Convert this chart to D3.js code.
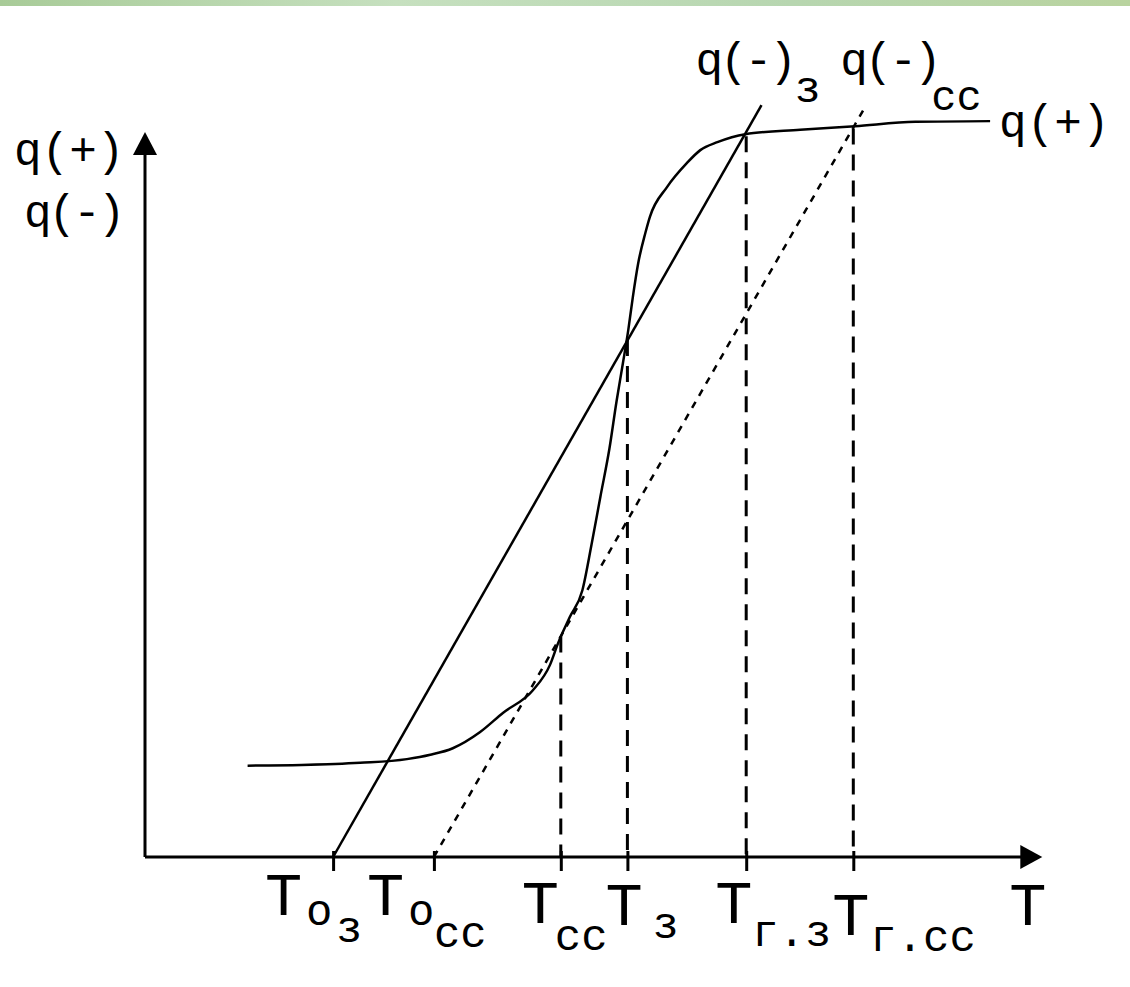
<!DOCTYPE html>
<html>
<head>
<meta charset="utf-8">
<script src="https://cdn.jsdelivr.net/npm/d3@7"></script>
<style>
  body { margin: 0; background: #fff; }
  svg { display: block; }
  text { font-family: "Courier New", "Liberation Mono", monospace; fill: #000; }
</style>
</head>
<body>
<div id="chart"></div>
<script>
// q(+) curve (T, q in arbitrary units 0..100)
const curveT = [11.4, 17.4, 23.9, 29.1, 31.7, 34.2, 37.2, 39.8, 43.1, 45.0, 45.9, 47.2, 48.6, 49.6, 50.6,
                51.6, 52.4, 53.1, 53.7, 54.2, 54.8, 55.6, 56.1, 58.0, 60.2, 61.7, 63.6, 66.7, 72.8, 78.9, 85.6, 93.9];
const curveQ = [12.6, 12.7, 13.0, 13.5, 14.1, 15.0, 17.2, 19.9, 23.0, 26.5, 29.5, 33.1, 36.8, 43.0, 49.7,
                56.3, 62.9, 68.1, 72.7, 77.2, 81.9, 86.1, 88.3, 92.4, 95.7, 97.5, 98.6, 99.7, 100.3, 100.8, 101.4, 101.5];

// q(-) lines (solid for з, dashed for сс)
const lineZT = [20.9, 68.5];
const lineZQ = [0, 103.7];
const lineCCT = [32.1, 79.8];
const lineCCQ = [0, 103.0];

// marked temperatures on the T axis
const tickT = [20.9, 32.1, 46.2, 53.6, 66.8, 78.7];
const tickSubs = [["о", "з"], ["о", "сс"], ["сс"], ["з"], ["г.з"], ["г.сс"]];
// top of the dashed drop line for each tick (null = none)
const dropQ = [null, null, 30.4, 71.3, 99.4, 100.5];

const axisMaxT = 99.7;
const axisMaxQ = 100;

const W = 1130, H = 987;

const svg = d3.select("#chart").append("svg")
    .attr("width", W)
    .attr("height", H);

// green strip on top
const grad = svg.append("defs").append("linearGradient").attr("id", "band");
[["0%", "#a8cb98"], ["35%", "#c6e0bf"], ["70%", "#b7d6b0"], ["100%", "#b9d39f"]].forEach(s =>
    grad.append("stop").attr("offset", s[0]).attr("stop-color", s[1]));
svg.append("rect").attr("x", 0).attr("y", 0).attr("width", W).attr("height", 6).attr("fill", "url(#band)");

const x = d3.scaleLinear().domain([0, 100]).range([145, 1045]);
const y = d3.scaleLinear().domain([0, 100]).range([857, 132]);

// axes
svg.append("line")
    .attr("x1", x(0)).attr("y1", y(0)).attr("x2", x(axisMaxT) - 10).attr("y2", y(0))
    .attr("stroke", "#000").attr("stroke-width", 3);
svg.append("line")
    .attr("x1", x(0)).attr("y1", y(0)).attr("x2", x(0)).attr("y2", y(axisMaxQ) + 10)
    .attr("stroke", "#000").attr("stroke-width", 3);
svg.append("path")
    .attr("d", `M${x(0)},${y(axisMaxQ)} L${x(0) - 12},${y(axisMaxQ) + 23} L${x(0) + 12},${y(axisMaxQ) + 23} Z`)
    .attr("fill", "#000");
svg.append("path")
    .attr("d", `M${x(axisMaxT)},${y(0)} L${x(axisMaxT) - 22},${y(0) - 12} L${x(axisMaxT) - 22},${y(0) + 12} Z`)
    .attr("fill", "#000");

// ticks
const xAxis = svg.append("g")
    .attr("transform", `translate(0,${y(0)})`)
    .call(d3.axisBottom(x).tickValues(tickT).tickSize(14).tickFormat(""));
xAxis.select(".domain").remove();
xAxis.selectAll(".tick line").attr("y1", -6).attr("stroke-width", 3);

// dashed drop lines
svg.selectAll(".drop")
    .data(tickT.map((t, i) => [t, dropQ[i]]).filter(d => d[1] !== null))
    .enter().append("line")
    .attr("class", "drop")
    .attr("x1", d => x(d[0])).attr("x2", d => x(d[0]))
    .attr("y1", d => y(d[1])).attr("y2", y(0))
    .attr("stroke", "#000").attr("stroke-width", 3)
    .attr("stroke-dasharray", "16,10");

const line = d3.line().x(d => x(d[0])).y(d => y(d[1]));

// q(-)з solid, q(-)сс dashed
svg.append("path")
    .attr("d", line(d3.zip(lineZT, lineZQ)))
    .attr("fill", "none").attr("stroke", "#000").attr("stroke-width", 2.5);
svg.append("path")
    .attr("d", line(d3.zip(lineCCT, lineCCQ)))
    .attr("fill", "none").attr("stroke", "#000").attr("stroke-width", 2.5)
    .attr("stroke-dasharray", "7,7");

// q(+) curve
svg.append("path")
    .attr("d", line.curve(d3.curveMonotoneX)(d3.zip(curveT, curveQ)))
    .attr("fill", "none").attr("stroke", "#000").attr("stroke-width", 2.5);

// tick labels: T with subscripts, one text element each
// [T dx, T baseline, [sub dx, sub baseline]...] relative to the tick
const labelLayout = [
    [-68, 915, [-27, 925], [3, 942]],
    [-67, 915, [-26, 925], [0, 947]],
    [-39, 923, [-6, 950]],
    [-22, 925, [25, 938]],
    [-31, 923, [6, 946]],
    [-21, 935, [17, 951]]
];
tickT.forEach((t, i) => {
    const lay = labelLayout[i];
    const txt = svg.append("text");
    txt.append("tspan").attr("x", x(t) + lay[0]).attr("y", lay[1])
        .attr("font-size", 62).text("T");
    tickSubs[i].forEach((s, j) => {
        txt.append("tspan").attr("x", x(t) + lay[2 + j][0]).attr("y", lay[2 + j][1])
            .attr("font-size", 44).text(s);
    });
});
svg.append("text").attr("x", x(axisMaxT) - 33).attr("y", 925).attr("font-size", 62).text("T");

// curve / line labels
svg.append("text").attr("x", 14).attr("y", 165).attr("font-size", 46).text("q(+)");
svg.append("text").attr("x", 24).attr("y", 227).attr("font-size", 46)
    .attr("letter-spacing", -3).text("q(-)");
svg.append("text").attr("x", x(curveT[curveT.length - 1]) + 9).attr("y", 137).attr("font-size", 46).text("q(+)");

const lz = svg.append("text").attr("font-size", 46);
lz.append("tspan").attr("x", x(lineZT[1]) - 66).attr("y", 75).attr("letter-spacing", -3).text("q(-)");
lz.append("tspan").attr("x", x(lineZT[1]) + 33).attr("y", 102).attr("font-size", 44).text("з");
const lc = svg.append("text").attr("font-size", 46);
lc.append("tspan").attr("x", x(lineCCT[1]) - 23).attr("y", 75).attr("letter-spacing", -3).text("q(-)");
lc.append("tspan").attr("x", x(lineCCT[1]) + 68).attr("y", 110).attr("font-size", 42).text("сс");
</script>
</body>
</html>
